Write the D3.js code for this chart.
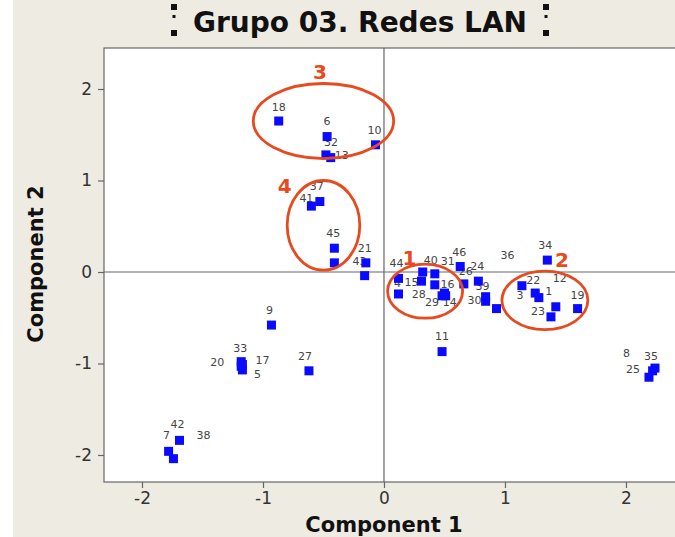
<!DOCTYPE html>
<html lang="es">
<head>
<meta charset="utf-8">
<title>Grupo 03. Redes LAN</title>
<script src="https://d3js.org/d3.v7.min.js"></script>
<style>
  body { margin: 0; background: #fff; }
  svg { display: block; font-family: "DejaVu Sans", Verdana, sans-serif; }
</style>
</head>
<body>
<script>
// point ids and scores on the first two components
var ids   = ["18","6","32","13","10","37","41","45","2","21","43","44","4","15","40","31","28","16","29","14","46","26","24","39","30","36","11","34","3","22","1","12","23","19","9","33","20","17","5","27","42","7","38","8","35","25"];
var comp1 = [-0.87,-0.47,-0.48,-0.44,-0.07,-0.53,-0.60,-0.41,-0.41,-0.15,-0.16,0.12,0.12,0.31,0.32,0.42,0.42,0.50,0.48,0.51,0.63,0.66,0.78,0.84,0.84,0.93,0.48,1.35,1.14,1.25,1.28,1.42,1.38,1.60,-0.93,-1.18,-1.18,-1.17,-1.17,-0.62,-1.69,-1.78,-1.74,2.22,2.24,2.19];
var comp2 = [1.65,1.48,1.28,1.25,1.39,0.77,0.72,0.26,0.10,0.10,-0.04,-0.07,-0.24,-0.10,0.00,-0.02,-0.14,-0.23,-0.26,-0.26,0.06,-0.13,-0.10,-0.27,-0.32,-0.40,-0.87,0.13,-0.15,-0.23,-0.28,-0.38,-0.49,-0.40,-0.58,-0.98,-1.03,-1.01,-1.07,-1.08,-1.84,-1.96,-2.04,-1.08,-1.05,-1.15];

var xTicks = [-2, -1, 0, 1, 2];
var yTicks = [-2, -1, 0, 1, 2];

// hand drawn groups
var groupNames = ["3", "4", "1", "2"];
var groupCx = [-0.50, -0.50, 0.34, 1.33];
var groupCy = [1.65, 0.51, -0.21, -0.31];
var groupRx = [0.58, 0.30, 0.31, 0.355];
var groupRy = [0.41, 0.49, 0.295, 0.32];
var groupTagX = [-0.53, -0.82, 0.21, 1.47];
var groupTagY = [2.19, 0.94, 0.15, 0.13];

// label placement, pixels from the point (null = label hidden)
var labelOffset = {
  "18":[0,-14], "6":[0,-15], "32":[5,-12], "13":[11,-2], "10":[-1,-14],
  "37":[-3,-15], "41":[-5,-8], "45":[-1,-15], "2":null, "21":[-1,-14], "43":[-5,-14],
  "44":[-2,-15], "4":[-1,-10], "15":[-10,1], "40":[8,-12], "31":[13,-12], "28":[-16,10],
  "16":[3,-9], "29":[-10,7], "14":[4,7], "46":[-1,-14], "26":[2,-12], "24":[-1,-15],
  "39":[-3,-10], "30":[-11,-1], "36":[11,-53], "11":[0,-15], "34":[-2,-15], "3":[-2,10],
  "22":[-2,-13], "1":[10,-6], "12":[4,-28], "23":[-13,-5], "19":[0,-13], "9":[-2,-15],
  "33":[-1,-13], "20":[-24,-4], "17":[20,-4], "5":[15,5], "27":[-4,-14], "42":[-2,-16],
  "7":[-2,-16], "38":[30,-23], "8":[-26,-17], "35":[-4,-12], "25":[-16,-8]
};

var W = 675, H = 537;
var plot = {left: 104, right: 678, top: 48, bottom: 482};

var svg = d3.select("body").append("svg")
  .attr("width", W)
  .attr("height", H);

svg.append("rect").attr("x", 13).attr("y", 0).attr("width", W - 13).attr("height", H).attr("fill", "#eeebe3");

var x = d3.scaleLinear().domain([-2.314, 2.43]).range([plot.left, plot.right]);
var y = d3.scaleLinear().domain([-2.295, 2.448]).range([plot.bottom, plot.top]);

svg.append("rect")
  .attr("x", plot.left).attr("y", plot.top)
  .attr("width", plot.right - plot.left).attr("height", plot.bottom - plot.top)
  .attr("fill", "#fff").attr("stroke", "#666").attr("stroke-width", 1.2);

// reference lines
svg.append("line").attr("x1", x(0)).attr("x2", x(0)).attr("y1", plot.top).attr("y2", plot.bottom)
  .attr("stroke", "#666").attr("stroke-width", 1.2);
svg.append("line").attr("x1", plot.left).attr("x2", plot.right).attr("y1", y(0)).attr("y2", y(0))
  .attr("stroke", "#666").attr("stroke-width", 1.2);

var xAxis = svg.append("g")
  .attr("transform", "translate(0," + plot.bottom + ")")
  .call(d3.axisBottom(x).tickValues(xTicks).tickSize(6).tickPadding(4).tickFormat(d3.format("d")));
var yAxis = svg.append("g")
  .attr("transform", "translate(" + plot.left + ",0)")
  .call(d3.axisLeft(y).tickValues(yTicks).tickSize(6).tickPadding(6).tickFormat(d3.format("d")));

[xAxis, yAxis].forEach(function(a) {
  a.select(".domain").remove();
  a.selectAll("line").attr("stroke", "#666").attr("stroke-width", 1.2);
  a.selectAll("text").attr("fill", "#333").style("font-size", "17px").style("font-family", "DejaVu Sans, sans-serif");
});
xAxis.selectAll("text").text(function(d) { return d < 0 ? "-" + Math.abs(d) : d; });
yAxis.selectAll("text").text(function(d) { return d < 0 ? "-" + Math.abs(d) : d; });

// point labels first, squares on top of them
var pts = ids.map(function(id, i) { return {id: id, c1: comp1[i], c2: comp2[i]}; });

svg.append("g").selectAll("text")
  .data(pts.filter(function(d) { return labelOffset[d.id]; }))
  .enter().append("text")
  .attr("x", function(d) { return x(d.c1) + labelOffset[d.id][0]; })
  .attr("y", function(d) { return y(d.c2) + labelOffset[d.id][1]; })
  .attr("text-anchor", "middle")
  .attr("dominant-baseline", "central")
  .attr("fill", "#444")
  .style("font-size", "11px")
  .text(function(d) { return d.id; });

svg.append("g").selectAll("rect")
  .data(pts)
  .enter().append("rect")
  .attr("x", function(d) { return x(d.c1) - 4.5; })
  .attr("y", function(d) { return y(d.c2) - 4.5; })
  .attr("width", 9).attr("height", 9)
  .attr("fill", "#0a0aff");

// group ellipses
var grp = groupNames.map(function(n, i) { return {n: n, cx: groupCx[i], cy: groupCy[i], rx: groupRx[i], ry: groupRy[i], tx: groupTagX[i], ty: groupTagY[i]}; });

svg.append("g").selectAll("ellipse")
  .data(grp).enter().append("ellipse")
  .attr("cx", function(d) { return x(d.cx); })
  .attr("cy", function(d) { return y(d.cy); })
  .attr("rx", function(d) { return x(d.rx) - x(0); })
  .attr("ry", function(d) { return y(0) - y(d.ry); })
  .attr("fill", "none").attr("stroke", "#e84a20").attr("stroke-width", 2.8);

svg.append("g").selectAll("text")
  .data(grp).enter().append("text")
  .attr("x", function(d) { return x(d.tx); })
  .attr("y", function(d) { return y(d.ty); })
  .attr("text-anchor", "middle").attr("dominant-baseline", "central")
  .attr("fill", "#e84a20").style("font-size", "20px").style("font-weight", "bold")
  .text(function(d) { return d.n; });

// titles
svg.append("text").attr("x", 360).attr("y", 32).attr("text-anchor", "middle")
  .style("font-size", "28px").style("font-weight", "bold").attr("fill", "#111")
  .text("Grupo 03. Redes LAN");

[171, 543].forEach(function(mx) {
  svg.append("rect").attr("x", mx).attr("y", 4).attr("width", 6).attr("height", 6).attr("fill", "#111");
  svg.append("rect").attr("x", mx + 1.5).attr("y", 15).attr("width", 3).attr("height", 3).attr("fill", "#111");
  svg.append("rect").attr("x", mx).attr("y", 30).attr("width", 6).attr("height", 6).attr("fill", "#111");
});

svg.append("text").attr("x", x(0)).attr("y", 532).attr("text-anchor", "middle")
  .style("font-size", "21px").style("font-weight", "bold").attr("fill", "#111")
  .text("Component 1");

svg.append("text")
  .attr("transform", "translate(43,264) rotate(-90)")
  .attr("text-anchor", "middle")
  .style("font-size", "21px").style("font-weight", "bold").attr("fill", "#111")
  .text("Component 2");
</script>
</body>
</html>
